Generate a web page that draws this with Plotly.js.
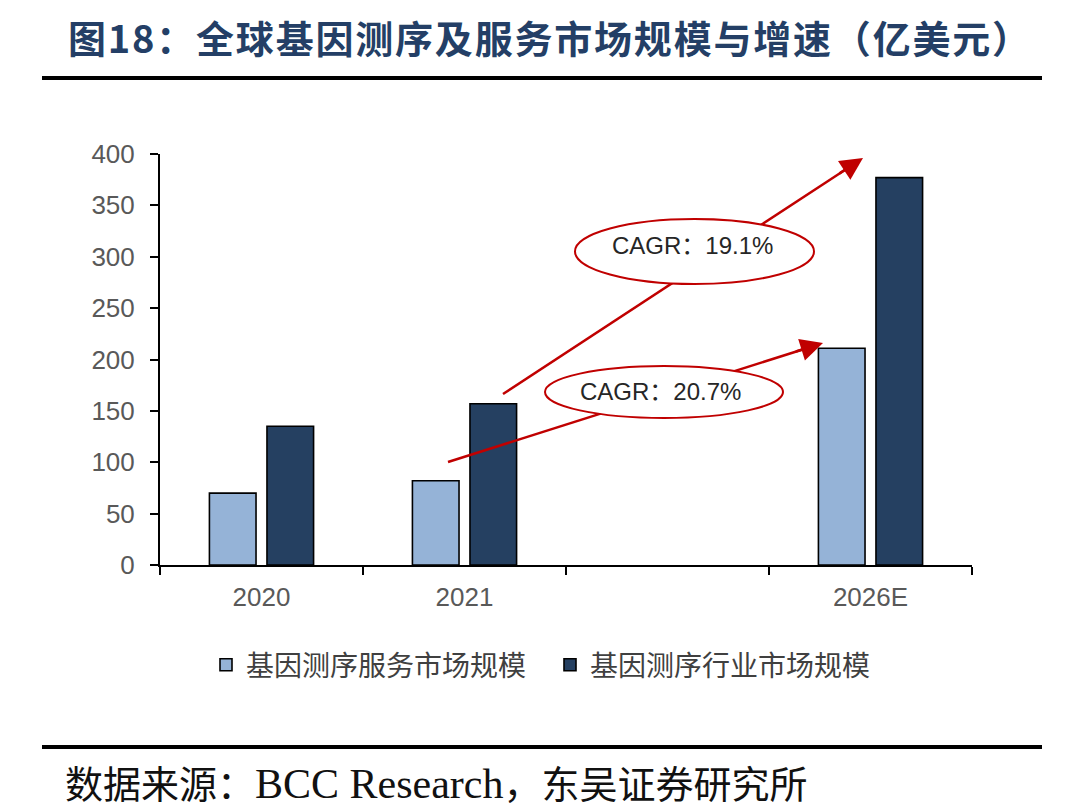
<!DOCTYPE html>
<html><head><meta charset="utf-8">
<script src="https://cdn.plot.ly/plotly-3.0.1.min.js"></script>
<style>html,body{margin:0;padding:0;background:#fff}</style>
</head><body><div id="chart" style="width:1068px;height:809px"></div>
<script>
// ---- data ----
const categories = ['2020', '2021', ' ', '2026E'];
const serviceMarket = [70, 82, null, 211];
const industryMarket = [135, 157, null, 377];
const seriesNames = ['基因测序服务市场规模', '基因测序行业市场规模'];
const cagrLabels = ['CAGR：19.1%', 'CAGR：20.7%'];
const titleText = '图18：全球基因测序及服务市场规模与增速（亿美元）';
const sourceText = '数据来源：<span style="font-family:Liberation Serif;font-size:42px">BCC Research</span>，东吴证券研究所';

// ---- geometry helpers (plot area in pixels) ----
const W = 1068, H = 809, L = 160, R = 972, T = 154, B = 565;
const px = x => (x - L) / (R - L);
const py = y => (B - y) / (B - T);
const RED = '#C00000';
const tickFont = {family: 'Liberation Sans, Arial, sans-serif', size: 26, color: '#595959'};

const traces = [
  {type: 'bar', x: categories, y: serviceMarket, name: seriesNames[0],
   marker: {color: '#95B3D7', line: {color: '#000', width: 1.6}}},
  {type: 'bar', x: categories, y: industryMarket, name: seriesNames[1],
   marker: {color: '#254061', line: {color: '#000', width: 1.6}}}
];

const shapes = [
  // arrow shafts
  {type: 'line', xref: 'paper', yref: 'paper', layer: 'above',
   x0: px(503), y0: py(394), x1: px(851), y1: py(166), line: {color: RED, width: 2.5}},
  {type: 'line', xref: 'paper', yref: 'paper', layer: 'above',
   x0: px(448), y0: py(462), x1: px(809), y1: py(347.5), line: {color: RED, width: 2.5}},
  // ellipses
  {type: 'circle', xref: 'paper', yref: 'paper', layer: 'above',
   x0: px(575), x1: px(814), y0: py(284), y1: py(219), fillcolor: '#fff', line: {color: RED, width: 2}},
  {type: 'circle', xref: 'paper', yref: 'paper', layer: 'above',
   x0: px(545), x1: px(783), y0: py(418), y1: py(366), fillcolor: '#fff', line: {color: RED, width: 2}},
  // rules
  {type: 'line', xref: 'paper', yref: 'paper', x0: px(42), x1: px(1042), y0: py(78), y1: py(78), line: {color: '#000', width: 4}},
  {type: 'line', xref: 'paper', yref: 'paper', x0: px(42), x1: px(1042), y0: py(747), y1: py(747), line: {color: '#000', width: 4}}
];

const annotations = [
  {xref: 'paper', yref: 'paper', x: px(863), y: py(158), ax: -25, ay: 16.4, text: '',
   showarrow: true, arrowhead: 2, arrowsize: 1.8, arrowwidth: 2.5, arrowcolor: RED, standoff: 0},
  {xref: 'paper', yref: 'paper', x: px(823), y: py(343), ax: -28.6, ay: 9, text: '',
   showarrow: true, arrowhead: 2, arrowsize: 1.8, arrowwidth: 2.5, arrowcolor: RED, standoff: 0},
  {xref: 'paper', yref: 'paper', x: px(692), y: py(245), text: cagrLabels[0], showarrow: false,
   xanchor: 'center', yanchor: 'middle', font: {family: 'Liberation Sans, Noto Sans CJK SC', size: 24, color: '#262626'}},
  {xref: 'paper', yref: 'paper', x: px(660), y: py(391), text: cagrLabels[1], showarrow: false,
   xanchor: 'center', yanchor: 'middle', font: {family: 'Liberation Sans, Noto Sans CJK SC', size: 24, color: '#262626'}},
  {xref: 'paper', yref: 'paper', x: px(63), y: py(781), text: sourceText, showarrow: false,
   xanchor: 'left', yanchor: 'middle', font: {family: 'Noto Sans CJK SC, sans-serif', size: 38, color: '#111'}}
];

const layout = {
  width: W, height: H,
  margin: {l: L, r: W - R, t: T, b: H - B, pad: 0},
  paper_bgcolor: '#fff', plot_bgcolor: '#fff',
  title: {text: titleText, xref: 'container', yref: 'container', x: 68 / W, xanchor: 'left',
          y: 1 - 40 / H, yanchor: 'middle',
          font: {family: 'Noto Sans CJK SC, sans-serif', size: 38, weight: 'bold', color: '#243F66'}},
  barmode: 'group', bargap: 0.433, bargroupgap: 0.19,
  xaxis: {type: 'category', categoryorder: 'array', categoryarray: categories, range: [-0.5, 3.5],
          tickson: 'boundaries', ticks: 'outside', ticklen: 8, tickwidth: 2, tickcolor: '#000',
          showline: true, linecolor: '#000', linewidth: 2, showgrid: false, zeroline: false,
          tickfont: tickFont, ticklabelstandoff: 8, fixedrange: true},
  yaxis: {range: [0, 400], dtick: 50, tick0: 0, ticks: 'outside', ticklen: 8, tickwidth: 2, tickcolor: '#000',
          showline: true, linecolor: '#000', linewidth: 2, showgrid: false, zeroline: false,
          tickfont: tickFont, ticklabelstandoff: 10, fixedrange: true},
  showlegend: true,
  legend: {orientation: 'h', x: px(206), xanchor: 'left', y: py(665), yanchor: 'middle',
           entrywidth: 299, entrywidthmode: 'pixels',
           font: {family: 'Noto Sans CJK SC, sans-serif', size: 28, color: '#404040'}, traceorder: 'normal'},
  shapes: shapes,
  annotations: annotations
};

Plotly.newPlot('chart', traces, layout, {displayModeBar: false, staticPlot: true}).then(gd => {
  const t = gd.querySelector('.gtitle');
  if (t) t.style.letterSpacing = '1.8px';
});
</script>
</body></html>
